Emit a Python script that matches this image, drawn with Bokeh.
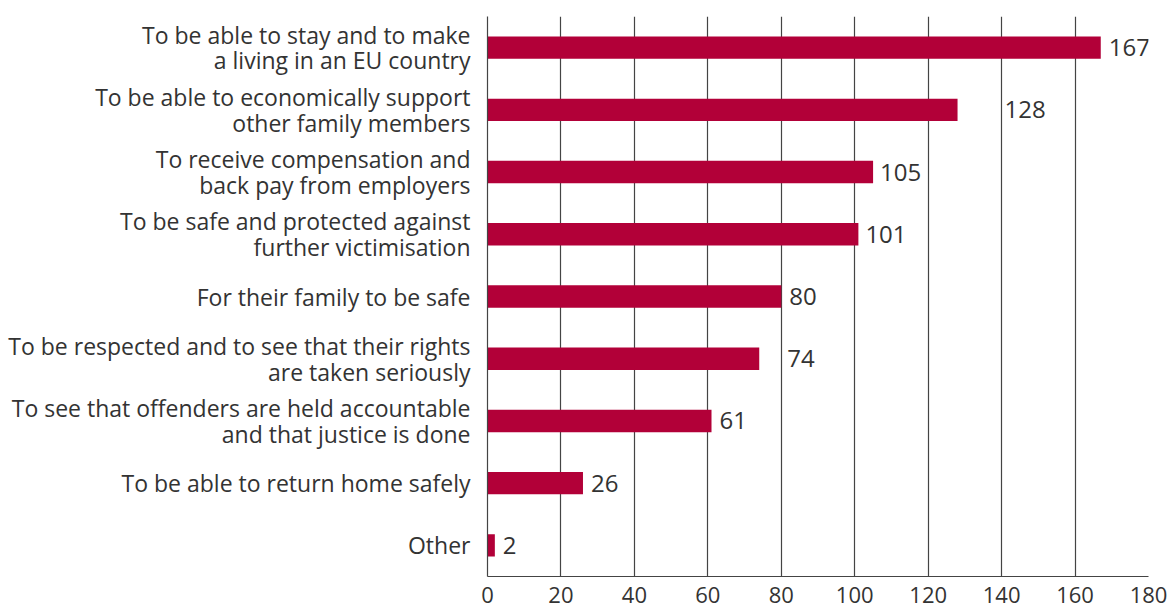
from bokeh.plotting import figure
from bokeh.models import ColumnDataSource, FactorRange, Range1d, FixedTicker
from bokeh.core.properties import value
from bokeh.embed import file_html
from bokeh.resources import INLINE

categories = [
    "To be able to stay and to make\na living in an EU country",
    "To be able to economically support\nother family members",
    "To receive compensation and\nback pay from employers",
    "To be safe and protected against\nfurther victimisation",
    "For their family to be safe",
    "To be respected and to see that their rights\nare taken seriously",
    "To see that offenders are held accountable\nand that justice is done",
    "To be able to return home safely",
    "Other",
]
counts = [167, 128, 105, 101, 80, 74, 61, 26, 2]
x_ticks = [0, 20, 40, 60, 80, 100, 120, 140, 160, 180]
label_offsets = [8, 47, 7, 7, 8, 28, 8, 8, 8]

FONT = "Open Sans"
TEXT = "#333333"
BAR = "#b20038"

src = ColumnDataSource(dict(cat=categories, val=counts,
                            lab=[str(v) for v in counts], off=label_offsets))

p = figure(width=1169, height=615, output_backend="svg", toolbar_location=None,
           y_range=FactorRange(factors=categories[::-1], range_padding=0),
           x_range=Range1d(0, 180),
           min_border_left=487, min_border_right=21, min_border_top=16, min_border_bottom=39)

p.hbar(y="cat", right="val", left=0, height=0.36, source=src,
       fill_color=BAR, line_color=None)
p.text(x="val", y="cat", text="lab", x_offset="off", source=src,
       text_font=value(FONT), text_font_size="24px", text_color=TEXT,
       text_baseline="middle", text_align="left")

p.outline_line_color = None
p.ygrid.grid_line_color = None
p.xgrid.ticker = FixedTicker(ticks=x_ticks)
p.xgrid.grid_line_color = "#444444"
p.xgrid.grid_line_width = 1.2

p.xaxis.ticker = FixedTicker(ticks=x_ticks)
for ax in (p.xaxis, p.yaxis):
    ax.axis_line_color = "#444444"
    ax.axis_line_width = 1.2
    ax.major_tick_line_color = None
    ax.minor_tick_line_color = None
    ax.major_label_text_font = FONT
    ax.major_label_text_color = TEXT
p.xaxis.major_tick_out = 0
p.xaxis.major_label_standoff = 10
p.xaxis.major_label_text_font_size = "22px"
p.yaxis.major_tick_out = 0
p.yaxis.major_label_standoff = 17
p.yaxis.major_label_text_font_size = "23px"
p.yaxis.major_label_text_line_height = 0.8

open("out.html", "w").write(file_html(p, INLINE))
